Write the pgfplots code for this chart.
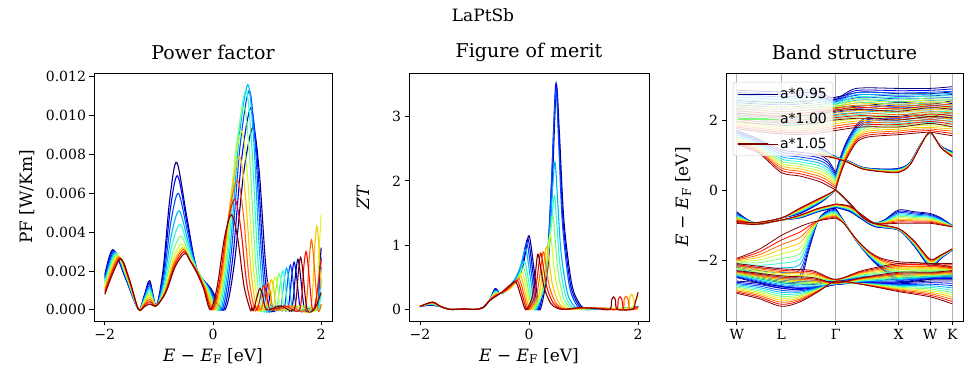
\documentclass[border=0pt]{standalone}
\usepackage{fontspec}
\setmainfont{DejaVu Serif}
\newfontfamily\legendfont{DejaVu Sans}
\usepackage{pgfplots}
\usepackage{pgfplotstable}
\pgfplotsset{compat=1.18}

\definecolor{jet0}{RGB}{0,0,128}
\definecolor{jet1}{RGB}{0,0,243}
\definecolor{jet2}{RGB}{0,77,255}
\definecolor{jet3}{RGB}{0,179,255}
\definecolor{jet4}{RGB}{41,255,206}
\definecolor{jet5}{RGB}{123,255,123}
\definecolor{jet6}{RGB}{206,255,41}
\definecolor{jet7}{RGB}{255,198,0}
\definecolor{jet8}{RGB}{255,104,0}
\definecolor{jet9}{RGB}{255,10,0}
\definecolor{jet10}{RGB}{128,0,0}

% band structure tables: x, then one column per lattice constant a*0.95 ... a*1.05
\pgfplotstableread{
x c0 c1 c2 c3 c4 c5 c6 c7 c8 c9 c10
0 1.70 1.66 1.62 1.58 1.54 1.50 1.46 1.42 1.38 1.34 1.30
0.35 1.45 1.41 1.37 1.33 1.29 1.25 1.21 1.17 1.13 1.09 1.05
0.707 1.15 1.085 1.02 0.955 0.89 0.825 0.76 0.695 0.63 0.565 0.50
1.0 1.08 1.012 0.944 0.876 0.808 0.74 0.672 0.604 0.536 0.468 0.40
1.3 1.00 0.925 0.85 0.775 0.70 0.625 0.55 0.475 0.40 0.325 0.25
1.45 0.85 0.777 0.704 0.631 0.558 0.485 0.412 0.339 0.266 0.193 0.12
1.573 0.50 0.45 0.40 0.35 0.30 0.25 0.20 0.15 0.10 0.05 0.00
}\bandA
\pgfplotstableread{
x c0 c1 c2 c3 c4 c5 c6 c7 c8 c9 c10
1.573 0.50 0.45 0.40 0.35 0.30 0.25 0.20 0.15 0.10 0.05 0.00
1.65 0.95 0.90 0.85 0.80 0.75 0.70 0.65 0.60 0.55 0.50 0.45
1.75 1.40 1.35 1.30 1.25 1.20 1.15 1.10 1.05 1.00 0.95 0.90
1.9 1.85 1.80 1.75 1.70 1.65 1.60 1.55 1.50 1.45 1.40 1.35
2.05 2.05 1.995 1.94 1.885 1.83 1.775 1.72 1.665 1.61 1.555 1.50
2.3 2.10 2.045 1.99 1.935 1.88 1.825 1.77 1.715 1.66 1.605 1.55
2.573 2.10 2.048 1.996 1.944 1.892 1.84 1.788 1.736 1.684 1.632 1.58
2.82 2.15 2.097 2.044 1.991 1.938 1.885 1.832 1.779 1.726 1.673 1.62
3.073 2.10 2.055 2.01 1.965 1.92 1.875 1.83 1.785 1.74 1.695 1.65
3.25 2.15 2.095 2.04 1.985 1.93 1.875 1.82 1.765 1.71 1.655 1.60
3.427 2.20 2.135 2.07 2.005 1.94 1.875 1.81 1.745 1.68 1.615 1.55
}\bandB
\pgfplotstableread{
x c0 c1 c2 c3 c4 c5 c6 c7 c8 c9 c10
1.3 1.25 1.225 1.20 1.175 1.15 1.125 1.10 1.075 1.05 1.025 1.00
1.573 0.95 0.945 0.94 0.935 0.93 0.925 0.92 0.915 0.91 0.905 0.90
1.75 0.85 0.845 0.84 0.835 0.83 0.825 0.82 0.815 0.81 0.805 0.80
2.0 0.65 0.645 0.64 0.635 0.63 0.625 0.62 0.615 0.61 0.605 0.60
2.3 0.60 0.592 0.584 0.576 0.568 0.56 0.552 0.544 0.536 0.528 0.52
2.573 0.62 0.608 0.596 0.584 0.572 0.56 0.548 0.536 0.524 0.512 0.50
2.75 0.78 0.772 0.764 0.756 0.748 0.74 0.732 0.724 0.716 0.708 0.70
2.92 1.30 1.295 1.29 1.285 1.28 1.275 1.27 1.265 1.26 1.255 1.25
3.073 1.62 1.623 1.626 1.629 1.632 1.635 1.638 1.641 1.644 1.647 1.65
3.25 1.25 1.245 1.24 1.235 1.23 1.225 1.22 1.215 1.21 1.205 1.20
3.427 1.10 1.085 1.07 1.055 1.04 1.025 1.01 0.995 0.98 0.965 0.95
}\bandC
\pgfplotstableread{
x c0 c1 c2 c3 c4 c5 c6 c7 c8 c9 c10
0 -0.62 -0.648 -0.676 -0.704 -0.732 -0.76 -0.788 -0.816 -0.844 -0.872 -0.90
0.3 -0.95 -0.948 -0.946 -0.944 -0.942 -0.94 -0.938 -0.936 -0.934 -0.932 -0.93
0.707 -0.80 -0.80 -0.80 -0.80 -0.80 -0.80 -0.80 -0.80 -0.80 -0.80 -0.80
1.0 -0.68 -0.664 -0.648 -0.632 -0.616 -0.60 -0.584 -0.568 -0.552 -0.536 -0.52
1.3 -0.40 -0.385 -0.37 -0.355 -0.34 -0.325 -0.31 -0.295 -0.28 -0.265 -0.25
1.45 -0.20 -0.192 -0.184 -0.176 -0.168 -0.16 -0.152 -0.144 -0.136 -0.128 -0.12
1.573 0 0 0 0 0 0 0 0 0 0 0
}\bandDl
\pgfplotstableread{
x c0 c1 c2 c3 c4 c5 c6 c7 c8 c9 c10
1.573 0 0 0 0 0 0 0 0 0 0 0
1.7 -0.22 -0.218 -0.216 -0.214 -0.212 -0.21 -0.208 -0.206 -0.204 -0.202 -0.20
1.85 -0.50 -0.498 -0.496 -0.494 -0.492 -0.49 -0.488 -0.486 -0.484 -0.482 -0.48
2.0 -0.78 -0.78 -0.78 -0.78 -0.78 -0.78 -0.78 -0.78 -0.78 -0.78 -0.78
2.17 -0.95 -0.95 -0.95 -0.95 -0.95 -0.95 -0.95 -0.95 -0.95 -0.95 -0.95
2.35 -0.85 -0.862 -0.874 -0.886 -0.898 -0.91 -0.922 -0.934 -0.946 -0.958 -0.97
2.573 -0.57 -0.608 -0.646 -0.684 -0.722 -0.76 -0.798 -0.836 -0.874 -0.912 -0.95
2.82 -0.62 -0.653 -0.686 -0.719 -0.752 -0.785 -0.818 -0.851 -0.884 -0.917 -0.95
3.073 -0.67 -0.698 -0.726 -0.754 -0.782 -0.81 -0.838 -0.866 -0.894 -0.922 -0.95
3.25 -0.80 -0.82 -0.84 -0.86 -0.88 -0.90 -0.92 -0.94 -0.96 -0.98 -1.00
3.427 -1.02 -1.023 -1.026 -1.029 -1.032 -1.035 -1.038 -1.041 -1.044 -1.047 -1.05
}\bandDr
\pgfplotstableread{
x c0 c1 c2 c3 c4 c5 c6 c7 c8 c9 c10
0 -0.70 -0.725 -0.75 -0.775 -0.80 -0.825 -0.85 -0.875 -0.90 -0.925 -0.95
0.3 -0.98 -0.98 -0.98 -0.98 -0.98 -0.98 -0.98 -0.98 -0.98 -0.98 -0.98
0.707 -0.86 -0.86 -0.86 -0.86 -0.86 -0.86 -0.86 -0.86 -0.86 -0.86 -0.86
1.0 -0.80 -0.792 -0.784 -0.776 -0.768 -0.76 -0.752 -0.744 -0.736 -0.728 -0.72
1.3 -0.62 -0.61 -0.60 -0.59 -0.58 -0.57 -0.56 -0.55 -0.54 -0.53 -0.52
1.573 -0.50 -0.49 -0.48 -0.47 -0.46 -0.45 -0.44 -0.43 -0.42 -0.41 -0.40
}\bandEl
\pgfplotstableread{
x c0 c1 c2 c3 c4 c5 c6 c7 c8 c9 c10
1.573 -0.50 -0.49 -0.48 -0.47 -0.46 -0.45 -0.44 -0.43 -0.42 -0.41 -0.40
1.8 -0.62 -0.604 -0.588 -0.572 -0.556 -0.54 -0.524 -0.508 -0.492 -0.476 -0.46
2.0 -0.85 -0.837 -0.824 -0.811 -0.798 -0.785 -0.772 -0.759 -0.746 -0.733 -0.72
2.2 -1.05 -1.04 -1.03 -1.02 -1.01 -1.00 -0.99 -0.98 -0.97 -0.96 -0.95
2.573 -1.15 -1.145 -1.14 -1.135 -1.13 -1.125 -1.12 -1.115 -1.11 -1.105 -1.10
2.82 -1.60 -1.585 -1.57 -1.555 -1.54 -1.525 -1.51 -1.495 -1.48 -1.465 -1.45
3.073 -2.20 -2.177 -2.154 -2.131 -2.108 -2.085 -2.062 -2.039 -2.016 -1.993 -1.97
3.25 -1.95 -1.94 -1.93 -1.92 -1.91 -1.90 -1.89 -1.88 -1.87 -1.86 -1.85
3.427 -1.72 -1.716 -1.712 -1.708 -1.704 -1.70 -1.696 -1.692 -1.688 -1.684 -1.68
}\bandEr
\pgfplotstableread{
x c0 c1 c2 c3 c4 c5 c6 c7 c8 c9 c10
0 -2.20 -2.175 -2.15 -2.125 -2.10 -2.075 -2.05 -2.025 -2.00 -1.975 -1.95
0.35 -2.45 -2.375 -2.30 -2.225 -2.15 -2.075 -2.00 -1.925 -1.85 -1.775 -1.70
0.707 -2.62 -2.488 -2.356 -2.224 -2.092 -1.96 -1.828 -1.696 -1.564 -1.432 -1.30
1.0 -2.60 -2.445 -2.29 -2.135 -1.98 -1.825 -1.67 -1.515 -1.36 -1.205 -1.05
1.15 -1.70 -1.625 -1.55 -1.475 -1.40 -1.325 -1.25 -1.175 -1.10 -1.025 -0.95
1.3 -0.85 -0.853 -0.856 -0.859 -0.862 -0.865 -0.868 -0.871 -0.874 -0.877 -0.88
1.45 -0.58 -0.605 -0.63 -0.655 -0.68 -0.705 -0.73 -0.755 -0.78 -0.805 -0.83
1.573 -0.52 -0.548 -0.576 -0.604 -0.632 -0.66 -0.688 -0.716 -0.744 -0.772 -0.80
}\bandFl
\pgfplotstableread{
x c0 c1 c2 c3 c4 c5 c6 c7 c8 c9 c10
1.573 -0.52 -0.548 -0.576 -0.604 -0.632 -0.66 -0.688 -0.716 -0.744 -0.772 -0.80
1.7 -0.88 -0.887 -0.894 -0.901 -0.908 -0.915 -0.922 -0.929 -0.936 -0.943 -0.95
1.9 -1.45 -1.445 -1.44 -1.435 -1.43 -1.425 -1.42 -1.415 -1.41 -1.405 -1.40
2.1 -1.90 -1.885 -1.87 -1.855 -1.84 -1.825 -1.81 -1.795 -1.78 -1.765 -1.75
2.3 -2.25 -2.22 -2.19 -2.16 -2.13 -2.10 -2.07 -2.04 -2.01 -1.98 -1.95
2.573 -2.60 -2.545 -2.49 -2.435 -2.38 -2.325 -2.27 -2.215 -2.16 -2.105 -2.05
2.82 -2.60 -2.547 -2.494 -2.441 -2.388 -2.335 -2.282 -2.229 -2.176 -2.123 -2.07
3.073 -2.55 -2.505 -2.46 -2.415 -2.37 -2.325 -2.28 -2.235 -2.19 -2.145 -2.10
3.25 -2.50 -2.46 -2.42 -2.38 -2.34 -2.30 -2.26 -2.22 -2.18 -2.14 -2.10
3.427 -2.45 -2.415 -2.38 -2.345 -2.31 -2.275 -2.24 -2.205 -2.17 -2.135 -2.10
}\bandFr
\pgfplotstableread{
x c0 c1 c2 c3 c4 c5 c6 c7 c8 c9 c10
0 -2.40 -2.37 -2.34 -2.31 -2.28 -2.25 -2.22 -2.19 -2.16 -2.13 -2.10
0.707 -2.65 -2.61 -2.57 -2.53 -2.49 -2.45 -2.41 -2.37 -2.33 -2.29 -2.25
1.2 -2.70 -2.66 -2.62 -2.58 -2.54 -2.50 -2.46 -2.42 -2.38 -2.34 -2.30
1.573 -2.60 -2.595 -2.59 -2.585 -2.58 -2.575 -2.57 -2.565 -2.56 -2.555 -2.55
2.0 -2.55 -2.525 -2.50 -2.475 -2.45 -2.425 -2.40 -2.375 -2.35 -2.325 -2.30
2.573 -2.55 -2.505 -2.46 -2.415 -2.37 -2.325 -2.28 -2.235 -2.19 -2.145 -2.10
3.073 -2.50 -2.46 -2.42 -2.38 -2.34 -2.30 -2.26 -2.22 -2.18 -2.14 -2.10
3.427 -2.45 -2.425 -2.40 -2.375 -2.35 -2.325 -2.30 -2.275 -2.25 -2.225 -2.20
}\bandGa
\pgfplotstableread{
x c0 c1 c2 c3 c4 c5 c6 c7 c8 c9 c10
0 -2.50 -2.48 -2.46 -2.44 -2.42 -2.40 -2.38 -2.36 -2.34 -2.32 -2.30
0.707 -2.80 -2.765 -2.73 -2.695 -2.66 -2.625 -2.59 -2.555 -2.52 -2.485 -2.45
1.2 -2.85 -2.815 -2.78 -2.745 -2.71 -2.675 -2.64 -2.605 -2.57 -2.535 -2.50
1.573 -2.70 -2.695 -2.69 -2.685 -2.68 -2.675 -2.67 -2.665 -2.66 -2.655 -2.65
2.0 -2.65 -2.635 -2.62 -2.605 -2.59 -2.575 -2.56 -2.545 -2.53 -2.515 -2.50
2.573 -2.65 -2.62 -2.59 -2.56 -2.53 -2.50 -2.47 -2.44 -2.41 -2.38 -2.35
3.073 -2.55 -2.53 -2.51 -2.49 -2.47 -2.45 -2.43 -2.41 -2.39 -2.37 -2.35
3.427 -2.55 -2.525 -2.50 -2.475 -2.45 -2.425 -2.40 -2.375 -2.35 -2.325 -2.30
}\bandGb
\pgfplotstableread{
x c0 c1 c2 c3 c4 c5 c6 c7 c8 c9 c10
0 -2.60 -2.635 -2.67 -2.705 -2.74 -2.775 -2.81 -2.845 -2.88 -2.915 -2.95
0.35 -2.65 -2.695 -2.74 -2.785 -2.83 -2.875 -2.92 -2.965 -3.01 -3.055 -3.10
0.707 -2.75 -2.807 -2.864 -2.921 -2.978 -3.035 -3.092 -3.149 -3.206 -3.263 -3.32
1.0 -2.80 -2.84 -2.88 -2.92 -2.96 -3.00 -3.04 -3.08 -3.12 -3.16 -3.20
1.3 -2.75 -2.765 -2.78 -2.795 -2.81 -2.825 -2.84 -2.855 -2.87 -2.885 -2.90
1.573 -2.70 -2.69 -2.68 -2.67 -2.66 -2.65 -2.64 -2.63 -2.62 -2.61 -2.60
2.0 -2.65 -2.655 -2.66 -2.665 -2.67 -2.675 -2.68 -2.685 -2.69 -2.695 -2.70
2.573 -2.65 -2.675 -2.70 -2.725 -2.75 -2.775 -2.80 -2.825 -2.85 -2.875 -2.90
3.073 -2.60 -2.645 -2.69 -2.735 -2.78 -2.825 -2.87 -2.915 -2.96 -3.005 -3.05
3.427 -2.60 -2.665 -2.73 -2.795 -2.86 -2.925 -2.99 -3.055 -3.12 -3.185 -3.25
}\bandGc
\pgfplotstableread{
x c0 c1 c2 c3 c4 c5 c6 c7 c8 c9 c10
0 2.20 2.155 2.11 2.065 2.02 1.975 1.93 1.885 1.84 1.795 1.75
0.707 2.10 2.05 2.00 1.95 1.90 1.85 1.80 1.75 1.70 1.65 1.60
1.2 2.15 2.095 2.04 1.985 1.93 1.875 1.82 1.765 1.71 1.655 1.60
1.573 2.35 2.285 2.22 2.155 2.09 2.025 1.96 1.895 1.83 1.765 1.70
2.0 2.40 2.34 2.28 2.22 2.16 2.10 2.04 1.98 1.92 1.86 1.80
2.573 2.50 2.43 2.36 2.29 2.22 2.15 2.08 2.01 1.94 1.87 1.80
3.073 2.45 2.395 2.34 2.285 2.23 2.175 2.12 2.065 2.01 1.955 1.90
3.427 2.55 2.475 2.40 2.325 2.25 2.175 2.10 2.025 1.95 1.875 1.80
}\bandUa
\pgfplotstableread{
x c0 c1 c2 c3 c4 c5 c6 c7 c8 c9 c10
0 2.55 2.49 2.43 2.37 2.31 2.25 2.19 2.13 2.07 2.01 1.95
0.707 2.50 2.435 2.37 2.305 2.24 2.175 2.11 2.045 1.98 1.915 1.85
1.2 2.55 2.485 2.42 2.355 2.29 2.225 2.16 2.095 2.03 1.965 1.90
1.573 2.65 2.585 2.52 2.455 2.39 2.325 2.26 2.195 2.13 2.065 2.00
2.0 2.80 2.725 2.65 2.575 2.50 2.425 2.35 2.275 2.20 2.125 2.05
2.573 2.75 2.675 2.60 2.525 2.45 2.375 2.30 2.225 2.15 2.075 2.00
3.073 2.75 2.685 2.62 2.555 2.49 2.425 2.36 2.295 2.23 2.165 2.10
3.427 2.80 2.725 2.65 2.575 2.50 2.425 2.35 2.275 2.20 2.125 2.05
}\bandUb
\pgfplotstableread{
x c0 c1 c2 c3 c4 c5 c6 c7 c8 c9 c10
0 2.85 2.785 2.72 2.655 2.59 2.525 2.46 2.395 2.33 2.265 2.20
0.707 2.80 2.73 2.66 2.59 2.52 2.45 2.38 2.31 2.24 2.17 2.10
1.2 2.85 2.78 2.71 2.64 2.57 2.50 2.43 2.36 2.29 2.22 2.15
1.573 2.62 2.583 2.546 2.509 2.472 2.435 2.398 2.361 2.324 2.287 2.25
1.9 2.90 2.84 2.78 2.72 2.66 2.60 2.54 2.48 2.42 2.36 2.30
2.573 2.90 2.835 2.77 2.705 2.64 2.575 2.51 2.445 2.38 2.315 2.25
3.073 2.90 2.845 2.79 2.735 2.68 2.625 2.57 2.515 2.46 2.405 2.35
3.427 2.95 2.885 2.82 2.755 2.69 2.625 2.56 2.495 2.43 2.365 2.30
}\bandUc

\pgfplotsset{
  panel/.style={
    scale only axis, height=248pt,
    tick align=outside, major tick length=4.5pt, tick pos=left,
    tick style={black, line width=0.8pt},
    axis line style={line width=0.8pt},
    ticklabel style={font=\fontsize{14}{16}\selectfont},
    label style={font=\fontsize{17}{20}\selectfont},
    title style={font=\fontsize{19}{22}\selectfont, at={(0.5,1.0605)}, anchor=center},
    xlabel style={at={(0.5,-0.141)}, anchor=center},
    every axis plot/.append style={line width=1.1pt, smooth},
    scaled ticks=false,
  },
}

\begin{document}
\begin{tikzpicture}[x=1pt,y=1pt]
\useasboundingbox (0,0) rectangle (966,377);
\node[font=\fontsize{17}{20}\selectfont] at (483,362) {LaPtSb};

% ---------------- Power factor ----------------
\begin{axis}[panel, at={(94pt,56pt)}, anchor=south west, width=238pt,
  xmin=-2.2, xmax=2.2, ymin=-0.00058, ymax=0.0122,
  xtick={-2,0,2}, xticklabels={−2,0,2},
  ytick={0,0.002,0.004,0.006,0.008,0.010,0.012},
  yticklabels={0.000,0.002,0.004,0.006,0.008,0.010,0.012},
  title={Power factor},
  xlabel={\textit{E} − \textit{E}\textsubscript{F} [eV]},
  ylabel={PF [W/Km]},
  ylabel style={at={(-0.2815,0.5)}, anchor=center},
]
\addplot[jet0] coordinates {(-2,0.0018) (-1.85,0.0031) (-1.615,0.0016) (-1.38,0.00003) (-1.27,0.00075) (-1.17,0.0015) (-1.05,0.0002) (-0.923,0.00205) (-0.797,0.00575) (-0.67,0.0076) (-0.485,0.0048) (-0.3,0.0021) (-0.04,0.0011) (0.22,0) (0.393,0.00235) (0.567,0.00705) (0.74,0.0094) (0.857,0.00705) (0.973,0.00235) (1.09,0) (1.27,0.0002) (1.45,0) (1.53,0.00195) (1.57,0.0026) (1.61,0.00195) (1.69,0) (1.78,0.00005) (1.88,0) (1.95,0.0015) (2.0,0.0032)};
\addplot[jet1] coordinates {(-2,0.0017) (-1.837,0.00305) (-1.609,0.0016) (-1.38,0.00003) (-1.27,0.00069) (-1.17,0.00138) (-1.05,0.0002) (-0.918,0.00188) (-0.787,0.00523) (-0.655,0.0069) (-0.478,0.00445) (-0.3,0.0021) (-0.054,0.0011) (0.193,0) (0.362,0.0026) (0.531,0.0078) (0.70,0.0104) (0.817,0.0078) (0.933,0.0026) (1.05,0) (1.215,0.0002) (1.38,0) (1.46,0.00184) (1.50,0.00245) (1.54,0.00184) (1.62,0) (1.75,0.00005) (1.90,0) (1.96,0.0013) (2.0,0.0027)};
\addplot[jet2] coordinates {(-2,0.0016) (-1.824,0.0030) (-1.602,0.0016) (-1.38,0.00003) (-1.27,0.00063) (-1.17,0.00126) (-1.05,0.0002) (-0.913,0.00165) (-0.777,0.00455) (-0.64,0.0060) (-0.47,0.0040) (-0.3,0.0021) (-0.067,0.0011) (0.166,0) (0.334,0.00283) (0.502,0.00848) (0.67,0.0113) (0.783,0.00848) (0.897,0.00283) (1.01,0) (1.16,0.0002) (1.31,0) (1.39,0.00173) (1.43,0.0023) (1.47,0.00173) (1.55,0) (1.73,0.00005) (1.91,0) (1.96,0.0010) (2.0,0.0022)};
\addplot[jet3] coordinates {(-2,0.0015) (-1.811,0.00295) (-1.596,0.0016) (-1.38,0.00003) (-1.27,0.00057) (-1.17,0.00114) (-1.05,0.0002) (-0.908,0.00143) (-0.767,0.00388) (-0.625,0.0051) (-0.463,0.00355) (-0.3,0.0021) (-0.081,0.0011) (0.139,0) (0.308,0.0029) (0.476,0.0087) (0.645,0.0116) (0.753,0.0087) (0.862,0.0029) (0.97,0) (1.105,0.0002) (1.24,0) (1.32,0.00161) (1.36,0.00215) (1.40,0.00161) (1.48,0) (1.70,0.00005) (1.92,0) (1.97,0.0008) (2.0,0.0016)};
\addplot[jet4] coordinates {(-2,0.0014) (-1.798,0.0029) (-1.589,0.0016) (-1.38,0.00003) (-1.27,0.00051) (-1.17,0.00102) (-1.05,0.0002) (-0.903,0.00125) (-0.757,0.00335) (-0.61,0.0044) (-0.455,0.0032) (-0.3,0.0021) (-0.094,0.0011) (0.112,0) (0.278,0.00283) (0.444,0.00848) (0.61,0.0113) (0.717,0.00848) (0.823,0.00283) (0.93,0) (1.05,0.0002) (1.17,0) (1.25,0.0015) (1.29,0.0020) (1.33,0.0015) (1.41,0) (1.68,0.00005) (1.94,0) (1.97,0.0003) (2.0,0.0008)};
\addplot[jet5] coordinates {(-2,0.0013) (-1.785,0.00285) (-1.583,0.0016) (-1.38,0.00003) (-1.27,0.00045) (-1.17,0.0009) (-1.05,0.0002) (-0.898,0.0011) (-0.747,0.0029) (-0.595,0.0038) (-0.448,0.0029) (-0.3,0.0021) (-0.108,0.0011) (0.085,0) (0.247,0.00263) (0.408,0.00788) (0.57,0.0105) (0.677,0.00788) (0.783,0.00263) (0.89,0) (0.995,0.0002) (1.10,0) (1.18,0.00139) (1.22,0.00185) (1.26,0.00139) (1.34,0) (1.67,0.0002) (1.96,0) (2.0,0.0003)};
\addplot[jet6] coordinates {(-2,0.0012) (-1.772,0.0028) (-1.576,0.0016) (-1.38,0.00003) (-1.27,0.00039) (-1.17,0.00078) (-1.05,0.0002) (-0.893,0.0010) (-0.737,0.0026) (-0.58,0.0034) (-0.44,0.0027) (-0.3,0.0020) (-0.121,0.0011) (0.058,0) (0.215,0.0023) (0.373,0.0069) (0.53,0.0092) (0.637,0.0069) (0.743,0.0023) (0.85,0) (0.94,0.0002) (1.03,0) (1.11,0.00128) (1.15,0.0017) (1.19,0.00128) (1.27,0) (1.58,0.0002) (1.90,0) (1.95,0.0025) (2.0,0.0049)};
\addplot[jet7] coordinates {(-2,0.0011) (-1.759,0.00275) (-1.570,0.0016) (-1.38,0.00003) (-1.27,0.00033) (-1.17,0.00066) (-1.05,0.0002) (-0.888,0.00095) (-0.727,0.00245) (-0.565,0.0032) (-0.433,0.0026) (-0.3,0.0020) (-0.135,0.0011) (0.031,0) (0.184,0.00198) (0.337,0.00593) (0.49,0.0079) (0.597,0.00593) (0.703,0.00198) (0.81,0) (0.885,0.0002) (0.96,0) (1.04,0.00116) (1.08,0.00155) (1.12,0.00116) (1.20,0) (1.50,0.0002) (1.80,0) (1.88,0.0032) (1.92,0.0043) (1.96,0.0032) (2.0,0.0011)};
\addplot[jet8] coordinates {(-2,0.0010) (-1.746,0.0027) (-1.563,0.0016) (-1.38,0.00003) (-1.27,0.00027) (-1.17,0.00054) (-1.05,0.0002) (-0.883,0.00093) (-0.717,0.00238) (-0.55,0.0031) (-0.425,0.00255) (-0.3,0.0020) (-0.148,0.0011) (0.004,0) (0.153,0.00168) (0.301,0.00503) (0.45,0.0067) (0.557,0.00503) (0.663,0.00168) (0.77,0) (0.83,0.0002) (0.89,0) (0.97,0.00105) (1.01,0.0014) (1.05,0.00105) (1.13,0) (1.42,0.0002) (1.70,0) (1.78,0.0027) (1.82,0.0036) (1.86,0.0027) (1.94,0) (2.0,0.0003)};
\addplot[jet9] coordinates {(-2,0.0009) (-1.733,0.00265) (-1.557,0.0016) (-1.38,0.00003) (-1.27,0.00021) (-1.17,0.00042) (-1.05,0.0002) (-0.878,0.0009) (-0.707,0.0023) (-0.535,0.0030) (-0.418,0.0025) (-0.3,0.0020) (-0.162,0.0011) (-0.023,0) (0.118,0.00143) (0.259,0.00428) (0.40,0.0057) (0.51,0.00428) (0.62,0.00143) (0.73,0) (0.775,0.0002) (0.82,0) (0.90,0.00094) (0.94,0.00125) (0.98,0.00094) (1.06,0) (1.33,0.0002) (1.60,0) (1.68,0.00225) (1.72,0.0030) (1.76,0.00225) (1.84,0) (1.92,0.0008) (2.0,0.0026)};
\addplot[jet10] coordinates {(-2,0.0008) (-1.72,0.0026) (-1.55,0.0016) (-1.38,0.00003) (-1.27,0.00015) (-1.17,0.0003) (-1.05,0.0002) (-0.873,0.00088) (-0.697,0.00223) (-0.52,0.0029) (-0.41,0.00245) (-0.3,0.0019) (-0.175,0.0011) (-0.05,0) (0.08,0.00123) (0.21,0.00368) (0.34,0.0049) (0.457,0.00368) (0.573,0.00123) (0.69,0) (0.72,0.0001) (0.75,0) (0.83,0.00083) (0.87,0.0011) (0.91,0.00083) (0.99,0) (1.25,0.0002) (1.50,0) (1.58,0.002) (1.62,0.0027) (1.66,0.002) (1.74,0) (1.88,0.00005) (2.0,0.0009)};
\end{axis}

% ---------------- Figure of merit ----------------
\begin{axis}[panel, at={(409pt,56pt)}, anchor=south west, width=240pt,
  xmin=-2.2, xmax=2.2, ymin=-0.175, ymax=3.675,
  xtick={-2,0,2}, xticklabels={−2,0,2},
  ytick={0,1,2,3}, yticklabels={0,1,2,3},
  title={Figure of merit},
  xlabel={\textit{E} − \textit{E}\textsubscript{F} [eV]},
  ylabel={\textit{ZT}},
  ylabel style={at={(-0.1917,0.5)}, anchor=center},
]
\addplot[jet0] coordinates {(-2,0.05) (-1.82,0.07) (-1.62,0.05) (-1.45,0.005) (-1.2,0.012) (-1.0,0.005) (-0.85,0.03) (-0.72,0.15) (-0.62,0.33) (-0.5,0.25) (-0.22,0.45) (-0.10,0.72) (0.0,1.15) (0.10,0.575) (0.20,0) (0.35,0.69) (0.425,1.90) (0.50,3.45) (0.556,2.76) (0.64,1.38) (0.78,0.414) (0.92,0.10) (1.06,0.005) (1.3,0.02) (1.6,0.01) (1.85,0.03) (2.0,0.05)};
\addplot[jet1] coordinates {(-2,0.05) (-1.815,0.075) (-1.62,0.05) (-1.45,0.005) (-1.2,0.012) (-1.0,0.005) (-0.85,0.03) (-0.72,0.15) (-0.62,0.317) (-0.5,0.252) (-0.24,0.463) (-0.12,0.723) (-0.02,1.10) (0.077,0.55) (0.174,0) (0.332,0.70) (0.411,1.925) (0.49,3.50) (0.543,2.80) (0.622,1.40) (0.754,0.42) (0.885,0.105) (1.017,0.005) (1.3,0.02) (1.6,0.01) (1.85,0.03) (2.0,0.05)};
\addplot[jet2] coordinates {(-2,0.05) (-1.81,0.08) (-1.62,0.05) (-1.45,0.005) (-1.2,0.012) (-1.0,0.005) (-0.85,0.03) (-0.72,0.15) (-0.62,0.304) (-0.5,0.254) (-0.26,0.466) (-0.14,0.705) (-0.04,1.03) (0.054,0.515) (0.148,0) (0.319,0.68) (0.405,1.87) (0.49,3.40) (0.538,2.72) (0.611,1.36) (0.732,0.408) (0.853,0.102) (0.974,0.005) (1.3,0.02) (1.6,0.015) (1.85,0.03) (2.0,0.05)};
\addplot[jet3] coordinates {(-2,0.05) (-1.805,0.085) (-1.62,0.05) (-1.45,0.005) (-1.2,0.012) (-1.0,0.005) (-0.85,0.03) (-0.72,0.15) (-0.62,0.291) (-0.5,0.256) (-0.28,0.449) (-0.16,0.661) (-0.06,0.93) (0.031,0.465) (0.122,0) (0.296,0.456) (0.383,1.254) (0.47,2.28) (0.516,1.824) (0.585,0.912) (0.70,0.274) (0.816,0.068) (0.931,0.005) (1.3,0.02) (1.6,0.015) (1.85,0.03) (2.0,0.04)};
\addplot[jet4] coordinates {(-2,0.05) (-1.80,0.09) (-1.62,0.05) (-1.45,0.005) (-1.2,0.012) (-1.0,0.005) (-0.85,0.03) (-0.72,0.15) (-0.62,0.278) (-0.5,0.258) (-0.30,0.386) (-0.18,0.554) (-0.08,0.75) (0.008,0.375) (0.096,0) (0.278,0.352) (0.369,0.968) (0.46,1.76) (0.503,1.408) (0.567,0.704) (0.674,0.211) (0.781,0.053) (0.888,0.005) (1.3,0.02) (1.6,0.02) (1.85,0.03) (2.0,0.04)};
\addplot[jet5] coordinates {(-2,0.05) (-1.795,0.095) (-1.62,0.05) (-1.45,0.005) (-1.2,0.012) (-1.0,0.005) (-0.85,0.03) (-0.72,0.15) (-0.62,0.265) (-0.5,0.26) (-0.32,0.354) (-0.20,0.497) (-0.10,0.65) (-0.015,0.325) (0.07,0) (0.25,0.29) (0.34,0.798) (0.43,1.45) (0.472,1.16) (0.534,0.58) (0.638,0.174) (0.741,0.044) (0.845,0.005) (1.3,0.02) (1.6,0.02) (1.85,0.03) (2.0,0.04)};
\addplot[jet6] coordinates {(-2,0.05) (-1.79,0.10) (-1.62,0.05) (-1.45,0.005) (-1.2,0.012) (-1.0,0.005) (-0.85,0.03) (-0.72,0.15) (-0.62,0.252) (-0.5,0.262) (-0.34,0.328) (-0.22,0.451) (-0.12,0.57) (-0.038,0.285) (0.044,0) (0.215,0.234) (0.30,0.644) (0.385,1.17) (0.427,0.936) (0.489,0.468) (0.594,0.14) (0.698,0.035) (0.802,0.005) (1.2,0.02) (1.6,0.02) (1.88,0.03) (1.95,0.12) (2.0,0.22)};
\addplot[jet7] coordinates {(-2,0.05) (-1.785,0.105) (-1.62,0.05) (-1.45,0.005) (-1.2,0.012) (-1.0,0.005) (-0.85,0.03) (-0.72,0.15) (-0.62,0.239) (-0.5,0.264) (-0.37,0.316) (-0.25,0.426) (-0.15,0.52) (-0.066,0.26) (0.018,0) (0.169,0.196) (0.245,0.539) (0.32,0.98) (0.364,0.784) (0.43,0.392) (0.54,0.118) (0.649,0.03) (0.759,0.005) (1.1,0.03) (1.5,0.02) (1.81,0.005) (1.845,0.18) (1.88,0.24) (1.915,0.18) (1.95,0.005) (2.0,0.03)};
\addplot[jet8] coordinates {(-2,0.05) (-1.78,0.11) (-1.62,0.05) (-1.45,0.005) (-1.2,0.012) (-1.0,0.005) (-0.85,0.03) (-0.72,0.15) (-0.62,0.226) (-0.5,0.266) (-0.40,0.306) (-0.28,0.406) (-0.18,0.48) (-0.094,0.24) (-0.008,0) (0.126,0.18) (0.193,0.495) (0.26,0.90) (0.306,0.72) (0.374,0.36) (0.488,0.108) (0.602,0.027) (0.716,0.005) (1.0,0.03) (1.4,0.02) (1.71,0.005) (1.745,0.16) (1.78,0.21) (1.815,0.16) (1.85,0.005) (2.0,0.02)};
\addplot[jet9] coordinates {(-2,0.05) (-1.775,0.115) (-1.62,0.05) (-1.45,0.005) (-1.2,0.012) (-1.0,0.005) (-0.85,0.03) (-0.72,0.15) (-0.62,0.213) (-0.5,0.268) (-0.43,0.301) (-0.31,0.393) (-0.21,0.45) (-0.122,0.225) (-0.034,0) (0.088,0.176) (0.149,0.484) (0.21,0.88) (0.256,0.704) (0.326,0.352) (0.442,0.106) (0.557,0.026) (0.673,0.005) (0.95,0.03) (1.3,0.02) (1.60,0.005) (1.635,0.15) (1.67,0.20) (1.705,0.15) (1.74,0.005) (1.9,0.01) (2.0,0.05)};
\addplot[jet10] coordinates {(-2,0.05) (-1.77,0.12) (-1.62,0.05) (-1.45,0.005) (-1.2,0.012) (-1.0,0.005) (-0.85,0.03) (-0.72,0.14) (-0.62,0.20) (-0.5,0.27) (-0.46,0.301) (-0.34,0.387) (-0.24,0.43) (-0.15,0.215) (-0.06,0) (0.05,0.172) (0.105,0.473) (0.16,0.86) (0.207,0.688) (0.278,0.344) (0.395,0.103) (0.513,0.026) (0.63,0.005) (0.9,0.03) (1.2,0.02) (1.48,0.005) (1.515,0.15) (1.55,0.20) (1.585,0.15) (1.62,0.005) (1.9,0.01) (1.95,0.12) (2.0,0.27)};
\end{axis}

% ---------------- Band structure ----------------
\begin{axis}[panel, at={(726pt,56pt)}, anchor=south west, width=237pt,
  xmin=-0.171, xmax=3.598, ymin=-3.74, ymax=3.34,
  xtick={0,0.707,1.573,2.573,3.073,3.427}, xticklabels={W,L,Γ,X,W,K},
  ytick={-2,0,2}, yticklabels={−2,0,2},
  xmajorgrids, grid style={black!30, line width=0.8pt},
  title={Band structure},
  ylabel={\textit{E} − \textit{E}\textsubscript{F} [eV]},
  ylabel style={at={(-0.1814,0.5)}, anchor=center},
  every axis plot/.append style={line width=0.8pt},
  legend cell align=left,
  legend image code/.code={\path (0pt,0pt) -- (40pt,0pt); \draw[#1, line width=1.1pt] (0pt,0pt) -- (30pt,0pt);},
  legend style={at={(0.0295,0.9637)}, anchor=north west, draw=black!20, fill=white, fill opacity=0.8, draw opacity=1, text opacity=1, rounded corners=2pt, font=\legendfont\fontsize{14}{16}\selectfont, row sep=9pt, inner xsep=4pt, inner ysep=4pt},
]
\addlegendimage{jet0}\addlegendentry{a*0.95}
\addlegendimage{jet5}\addlegendentry{a*1.00}
\addlegendimage{jet10}\addlegendentry{a*1.05}
\pgfplotsinvokeforeach{0,...,10}{
  \addplot[jet#1] table[x=x, y=c#1] {\bandUc};
  \addplot[jet#1] table[x=x, y=c#1] {\bandUb};
  \addplot[jet#1] table[x=x, y=c#1] {\bandUa};
  \addplot[jet#1] table[x=x, y=c#1] {\bandA};
  \addplot[jet#1] table[x=x, y=c#1] {\bandB};
  \addplot[jet#1] table[x=x, y=c#1] {\bandC};
  \addplot[jet#1] table[x=x, y=c#1] {\bandDl};
  \addplot[jet#1] table[x=x, y=c#1] {\bandDr};
  \addplot[jet#1] table[x=x, y=c#1] {\bandEl};
  \addplot[jet#1] table[x=x, y=c#1] {\bandEr};
  \addplot[jet#1] table[x=x, y=c#1] {\bandFl};
  \addplot[jet#1] table[x=x, y=c#1] {\bandFr};
  \addplot[jet#1] table[x=x, y=c#1] {\bandGa};
  \addplot[jet#1] table[x=x, y=c#1] {\bandGb};
  \addplot[jet#1] table[x=x, y=c#1] {\bandGc};
}
\end{axis}
\end{tikzpicture}
\end{document}
